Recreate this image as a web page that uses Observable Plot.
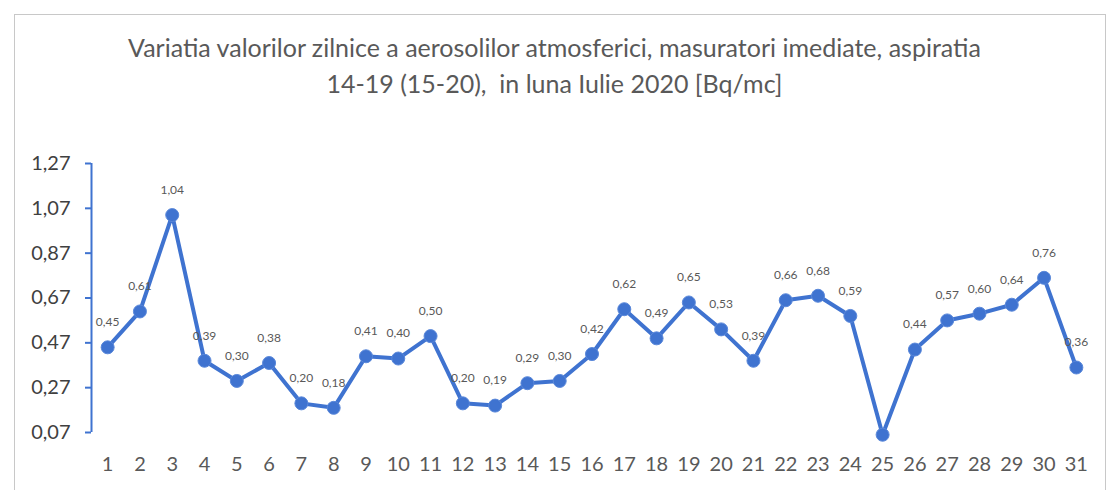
<!DOCTYPE html>
<html>
<head>
<meta charset="utf-8">
<script src="https://cdn.jsdelivr.net/npm/d3@7"></script>
<script src="https://cdn.jsdelivr.net/npm/@observablehq/plot@0.6"></script>
<style>
  html, body { margin: 0; padding: 0; background: #fff; }
  #wrap { position: relative; width: 1109px; height: 490px; overflow: hidden; font-family: Lato, "Open Sans", sans-serif; }
  #frame { position: absolute; left: 14px; top: 14px; width: 1092px; height: 490px; border: 1.5px solid #c8c8c8; border-bottom: none; box-sizing: border-box; }
  #title { position: absolute; left: 0; width: 1109px; top: 29px; text-align: center; color: #595959; font-size: 25px; line-height: 36px; }
  #chart { position: absolute; left: 0; top: 120px; }
</style>
</head>
<body>
<div id="wrap">
  <div id="frame"></div>
  <div id="title">Variatia valorilor zilnice a aerosolilor atmosferici, masuratori imediate, aspiratia<br>14-19 (15-20),&nbsp; in luna Iulie 2020 [Bq/mc]</div>
  <div id="chart"></div>
</div>
<script>
const days = [1,2,3,4,5,6,7,8,9,10,11,12,13,14,15,16,17,18,19,20,21,22,23,24,25,26,27,28,29,30,31];
const values = [0.45,0.61,1.04,0.39,0.30,0.38,0.20,0.18,0.41,0.40,0.50,0.20,0.19,0.29,0.30,0.42,0.62,0.49,0.65,0.53,0.39,0.66,0.68,0.59,0.06,0.44,0.57,0.60,0.64,0.76,0.36];
const pointLabels = ["0,45","0,61","1,04","0,39","0,30","0,38","0,20","0,18","0,41","0,40","0,50","0,20","0,19","0,29","0,30","0,42","0,62","0,49","0,65","0,53","0,39","0,66","0,68","0,59","","0,44","0,57","0,60","0,64","0,76","0,36"];
const yTicks = [0.07,0.27,0.47,0.67,0.87,1.07,1.27];

const data = days.map((d, i) => ({day: d, value: values[i], label: pointLabels[i]}));
const blue = "#3f73d0";
const fmt = v => v.toFixed(2).replace(".", ",");

const chart = Plot.plot({
  width: 1109,
  height: 370,
  marginLeft: 91,
  marginRight: 17,
  marginTop: 43,
  marginBottom: 58,
  style: {fontFamily: "Lato, 'Open Sans', sans-serif", background: "transparent"},
  x: {domain: [0.5, 31.5], axis: null},
  y: {domain: [0.07, 1.27], axis: null},
  marks: [
    Plot.ruleX([0.5], {y1: 0.07, y2: 1.27, stroke: blue, strokeWidth: 2}),
    Plot.axisY({ticks: yTicks, tickFormat: fmt, label: null, tickSize: 6, tickPadding: 15, stroke: blue, strokeWidth: 2, fill: "#404040", fontSize: 20}),
    Plot.axisX({ticks: days, tickFormat: d => String(d), label: null, tickSize: 0, tickPadding: 24, fill: "#595959", fontSize: 20}),
    Plot.line(data, {x: "day", y: "value", stroke: blue, strokeWidth: 4, strokeLinejoin: "round"}),
    Plot.dot(data, {x: "day", y: "value", r: 6.5, fill: blue, stroke: "#5a88da", strokeWidth: 1}),
    Plot.text(data, {x: "day", y: "value", text: "label", dy: -25, fill: "#595959", fontSize: 12})
  ]
});
document.getElementById("chart").appendChild(chart);
</script>
</body>
</html>
